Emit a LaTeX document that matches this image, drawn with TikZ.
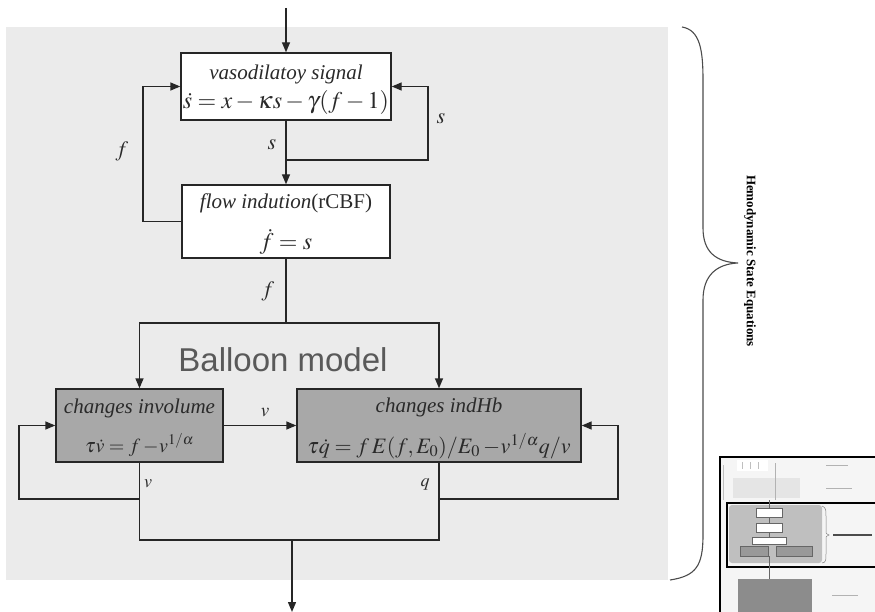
\documentclass[tikz,border=0pt]{standalone}
\usepackage{mathptmx}
\usepackage[no-math]{fontspec}
\setmainfont{Liberation Serif}
\setsansfont{Liberation Sans}
\usepackage{tikz}
\usetikzlibrary{arrows.meta}

\definecolor{panelgrey}{HTML}{EBEBEB}
\definecolor{blockgrey}{HTML}{A8A8A8}
\definecolor{wire}{HTML}{262626}
\definecolor{inkgrey}{HTML}{2A2A2A}

\newcommand{\ttl}[1]{{\fontsize{21}{23}\selectfont\itshape #1}}
\newcommand{\eqbig}[1]{{\fontsize{24}{26}\selectfont $#1$}}
\newcommand{\eqmid}[1]{{\fontsize{22}{24}\selectfont $#1$}}

\tikzset{
  wires/.style = {draw=wire, line width=1.4pt},
  >={Triangle[length=10pt,width=8pt]},
  blockw/.style = {draw=wire, line width=1.4pt, fill=white, inner sep=0pt,
                   align=center, text=inkgrey, text depth=0pt},
  blockg/.style = {blockw, fill=blockgrey},
  lbl/.style = {font=\fontsize{22}{24}\selectfont, text=inkgrey, inner sep=0pt}
}

\begin{document}
\begin{tikzpicture}[x=1pt, y=-1pt]
\useasboundingbox (0,0) rectangle (875,612);
\clip (0,0) rectangle (875,612);
\fill[panelgrey] (6,27) rectangle (668,580);

% blocks
\node[blockw, minimum width=210pt, minimum height=67pt] (sig) at (286,86.5)
  {\ttl{vasodilatoy signal}\\[6pt] \eqbig{\dot{s} = x - \kappa s - \gamma(f-1)}};
\node[blockw, minimum width=208pt, minimum height=73pt] (flow) at (286,221.5)
  {\ttl{flow indution\upshape(rCBF)}\\[15pt] \eqbig{\dot{f} = s}};
\node[blockg, minimum width=167pt, minimum height=73pt] (vol) at (139.5,425.5)
  {\ttl{changes involume}\\[15pt] {\fontsize{20}{22}\selectfont $\tau\dot{v} = f -\! v^{1/\alpha}$}};
\node[blockg, minimum width=284pt, minimum height=73pt] (dhb) at (439,425.5)
  {\ttl{changes indHb}\\[15pt] \eqmid{\tau\dot{q} = f\,E(f,E_0)/E_0 -\! v^{1/\alpha}q/v}};

\node[font=\sffamily\fontsize{33}{36}\selectfont, text=black!65] (balloon) at (283,360) {Balloon model};

% branch points
\coordinate (in) at (286,8);
\coordinate (sfork) at (286,160);
\coordinate (sright) at (428,160);
\coordinate (fleft) at (143,221.5);
\coordinate (ffork) at (286,323);
\coordinate (vfork) at (139.5,499);
\coordinate (vleft) at (19,499);
\coordinate (qfork) at (439,499);
\coordinate (qright) at (618,499);
\coordinate (vjoin) at (139.5,540);
\coordinate (qjoin) at (439,540);
\coordinate (ojoin) at (292,540);
\coordinate (out) at (292,612);

% connectors
\draw[wires,->] (in) -- (sig.north);
\draw[wires,->] (sig.south) -- (flow.north);
\draw[wires,->] (sfork) -- (sright) |- (sig.east);
\draw[wires,->] (flow.west) -- (fleft) |- (sig.west);
\draw[wires] (flow.south) -- (ffork);
\draw[wires,->] (ffork) -| (vol.north);
\draw[wires,->] (ffork) -| (dhb.north);
\draw[wires,->] (vol.east) -- (dhb.west);
\draw[wires,->] (vfork) -- (vleft) |- (vol.west);
\draw[wires,->] (qfork) -- (qright) |- (dhb.east);
\draw[wires] (vol.south) -- (vjoin) -- (qjoin) -- (dhb.south);
\draw[wires,->] (ojoin) -- (out);

% signal labels
\node[lbl] at (122,151) {$f$};
\node[lbl] at (272,145) {$s$};
\node[lbl] at (441,119) {$s$};
\node[lbl] at (268,291) {$f$};
\node[lbl, font=\fontsize{19}{21}\selectfont] at (265,413) {$v$};
\node[lbl, font=\fontsize{18}{20}\selectfont] at (148,484) {$v$};
\node[lbl, font=\fontsize{18}{20}\selectfont] at (425,484) {$q$};

% brace and side title
\draw[draw=black!70, line width=1.1pt] (682,27) .. controls (700,30) and (703,50) .. (703,80)
  -- (703,228) .. controls (703,252) and (716,262) .. (738,263)
  .. controls (716,264) and (703,276) .. (703,300)
  -- (703,535) .. controls (703,566) and (696,576) .. (670,580);
\node[rotate=-90, font=\bfseries\fontsize{13}{15}\selectfont] (side) at (750,261) {Hemodynamic State Equations};

% overview thumbnail
\draw[fill=black!4, line width=1.6pt] (720,457) rectangle (890,620);
\fill[white] (737,460) rectangle (768,471);
\draw[black!25, line width=0.5pt] (742,462) -- (742,469) (750,462) -- (750,469) (758,462) -- (758,469);
\fill[black!10] (733,478) rectangle (800,498);
\draw[black!25, line width=0.6pt] (723,465) -- (723,500);
\draw[black!30, line width=0.8pt] (775,463) -- (775,500);
\draw[black!30, line width=1pt] (826,465) -- (848,465) (826,488) -- (852,488) (832,595) -- (858,595);
\draw[line width=2.6pt] (727,503) rectangle (890,567);
\fill[black!25, rounded corners=3pt] (729,505) rectangle (822,563);
\draw[black!50, line width=0.5pt] (822,506) .. controls (826,508) .. (826,520) -- (826,530)
  .. controls (826,534) .. (829,535) .. controls (826,536) .. (826,540) -- (826,550)
  .. controls (826,562) .. (822,563);
\draw[black!70, line width=1.2pt] (833,535) -- (872,535);
\draw[black!60, fill=white, line width=0.5pt] (756,508) rectangle (782,517) (756,523) rectangle (782,532) (752,537) rectangle (786,544);
\draw[black!60, fill=black!40, line width=0.5pt] (740,546) rectangle (768,556) (776,546) rectangle (812,556);
\draw[black!60, line width=0.5pt] (769,500) -- (769,508) (769,517) -- (769,523) (769,532) -- (769,537) (769,556) -- (769,580);
\fill[black!45] (738,579) rectangle (812,615);
\end{tikzpicture}
\end{document}
